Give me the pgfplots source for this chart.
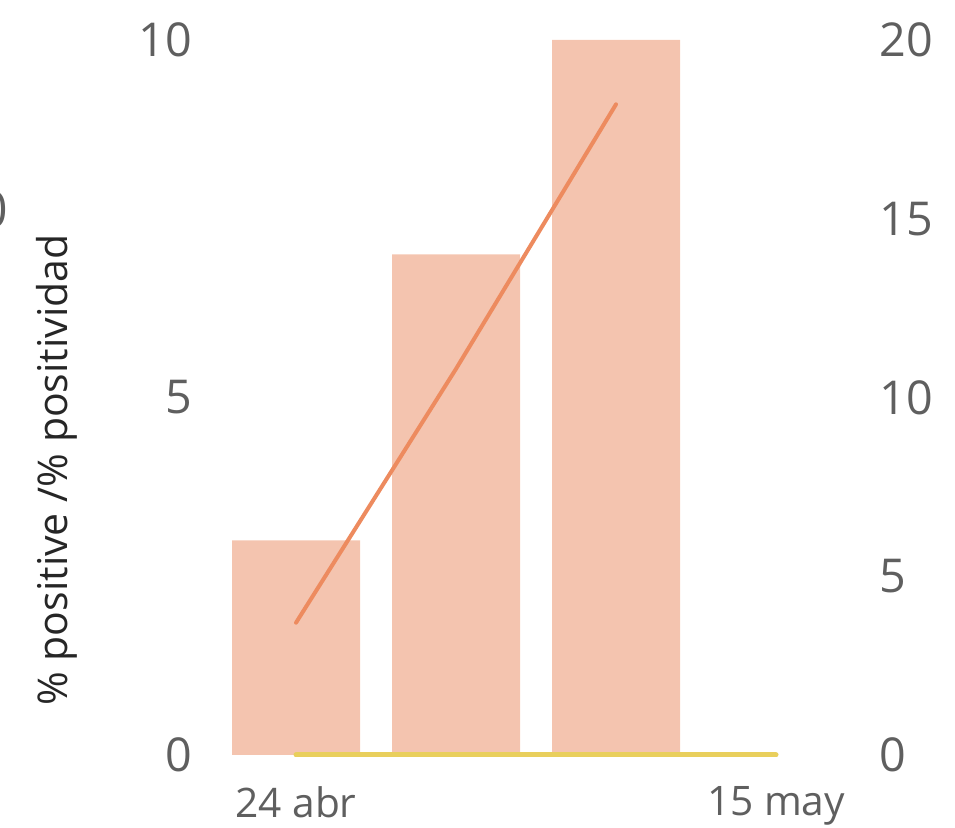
\documentclass[border=0pt]{standalone}
\usepackage{pgfplots}
\pgfplotsset{compat=1.18}
\usepackage{fontspec}
\setmainfont{Open Sans}
\definecolor{barc}{HTML}{F4C4AF}
\definecolor{linec}{HTML}{ED8B5F}
\definecolor{yelc}{HTML}{E9CF5C}
\definecolor{txt}{HTML}{5F5F5F}
\pgfplotstableread{
x y
0 3
1 7
2 10
}\bars
\pgfplotstableread{
x y
0 3.7
1 10.8
2 18.2
}\pos
\pgfplotstableread{
x y
0 0
1 0
2 0
3 0
}\zero
\begin{document}
\begin{tikzpicture}[x=0.3pt,y=0.3pt]
\useasboundingbox (0,0) rectangle (955,828);
\node[anchor=center,text=txt,font=\fontsize{15}{18}\selectfont] at (-6,618) {0};
\begin{axis}[
  at={(232*0.3pt,73*0.3pt)}, anchor=south west,
  scale only axis, width=608*0.3pt, height=715*0.3pt,
  xmin=-0.4, xmax=3.4, ymin=0, ymax=10,
  axis line style={draw=none}, tick style={draw=none},
  xtick={0,3}, xticklabels={24 abr,15 may},
  ytick={0,5,10},
  yticklabel style={text=txt,font=\fontsize{14}{17}\selectfont,xshift=-8.4pt},
  xticklabel style={text=txt,font=\fontsize{12.2}{15}\selectfont,yshift=-6pt},
  /pgf/number format/assume math mode=true,
  clip=false,
]
\addplot[ybar, bar width=0.8, fill=barc, draw=none, bar shift=0pt] table[x=x,y=y] {\bars};
\addplot[yelc, line width=1.5pt, line cap=round] table[x=x,y=y] {\zero};
\end{axis}
\begin{axis}[
  at={(232*0.3pt,73*0.3pt)}, anchor=south west,
  scale only axis, width=608*0.3pt, height=715*0.3pt,
  xmin=-0.4, xmax=3.4, ymin=0, ymax=20,
  axis y line*=right, axis x line=none,
  axis line style={draw=none}, tick style={draw=none},
  ytick={0,5,10,15,20},
  yticklabel style={text=txt,font=\fontsize{14}{17}\selectfont,xshift=8.4pt},
  /pgf/number format/assume math mode=true,
  clip=false,
]
\addplot[linec, line width=1.2pt, line cap=round] table[x=x,y=y] {\pos};
\end{axis}
\node[rotate=90,font=\fontsize{12.3}{14}\selectfont,text=black!85] at (57,358) {\% positive /\% positividad};
\end{tikzpicture}
\end{document}
